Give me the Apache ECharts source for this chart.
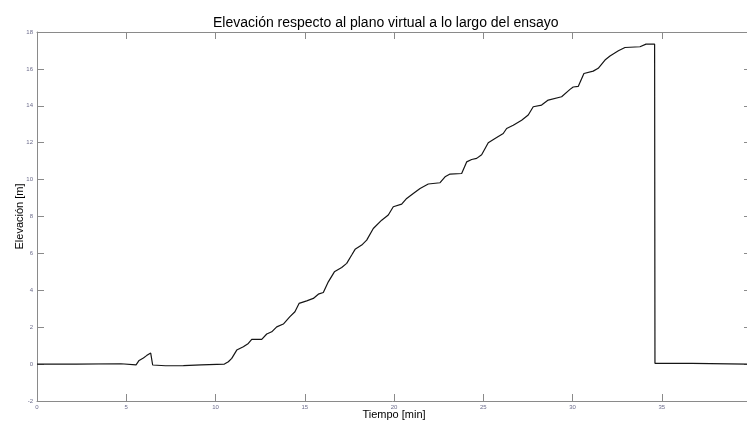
<!DOCTYPE html>
<html>
<head>
<meta charset="utf-8">
<script src="https://cdn.jsdelivr.net/npm/echarts@6/dist/echarts.min.js"></script>
<style>
html,body{margin:0;padding:0;background:#fff;}
#chart{width:747px;height:426px;}
</style>
</head>
<body>
<div id="chart"></div>
<script>
var chartTitle = 'Elevación respecto al plano virtual a lo largo del ensayo';
var xName = 'Tiempo [min]';
var yName = 'Elevación [m]';

var timeMin = [0, 2.2, 2.3, 4.7, 4.8, 5.55, 5.72, 5.96, 6.14, 6.37, 6.44, 6.48, 7.2, 8.2, 9.2, 10.5,
  10.72, 10.91, 11.19, 11.56, 11.84, 12.03, 12.59, 12.87, 13.15, 13.43, 13.8, 14.17, 14.45, 14.68,
  15.11, 15.48, 15.76, 16.04, 16.32, 16.66, 17.07, 17.35, 17.63, 17.82, 18.19, 18.47, 18.84, 19.31,
  19.68, 19.96, 20.43, 20.71, 21.08, 21.46, 21.92, 22.58, 22.86, 23.14, 23.79, 24.07, 24.35, 24.63,
  24.91, 25.0, 25.28, 25.66, 26.12, 26.31, 26.68, 27.15, 27.52, 27.8, 28.27, 28.64, 29.39, 29.86,
  30.04, 30.32, 30.64, 31.16, 31.44, 31.82, 32.1, 32.57, 32.94, 33.78, 34.12, 34.6, 34.62, 36.7, 36.75, 40];
var elevM = [0, 0, 0.03, 0.02, -0.02, -0.04, 0.2, 0.33, 0.46, 0.6, 0.6, -0.05, -0.09, -0.08, -0.04, 0.0,
  0.13, 0.31, 0.76, 0.94, 1.12, 1.34, 1.34, 1.63, 1.75, 2.02, 2.17, 2.57, 2.84, 3.29,
  3.43, 3.56, 3.79, 3.88, 4.46, 5.0, 5.24, 5.46, 5.91, 6.22, 6.45, 6.72, 7.35, 7.8,
  8.08, 8.53, 8.67, 8.98, 9.25, 9.52, 9.76, 9.83, 10.15, 10.3, 10.33, 10.96, 11.09, 11.15,
  11.35, 11.42, 12.0, 12.23, 12.5, 12.77, 12.95, 13.22, 13.5, 13.95, 14.04, 14.31, 14.49, 14.89,
  15.02, 15.05, 15.75, 15.88, 16.03, 16.48, 16.7, 16.98, 17.16, 17.2, 17.34, 17.34, 0.04, 0.04, -0.01, -0.01];

var xTicks = [0, 5, 10, 15, 20, 25, 30, 35, 40];
var yTicks = [-2, 0, 2, 4, 6, 8, 10, 12, 14, 16, 18];

var seriesData = timeMin.map(function (t, i) { return [t, elevM[i]]; });

var FONT = 'Liberation Sans, Arial, sans-serif';
var axisGray = '#8a8a8a';
var labelColor = '#6c6c8c';

var chart = echarts.init(document.getElementById('chart'), null, {renderer: 'canvas'});

function baseAxis(extra) {
  var o = {
    type: 'value',
    axisLine: {show: true, onZero: false, lineStyle: {color: axisGray, width: 1}},
    axisTick: {show: true, inside: true, length: 7, lineStyle: {color: axisGray, width: 1}},
    splitLine: {show: false},
    axisLabel: {show: false}
  };
  for (var k in extra) o[k] = extra[k];
  return o;
}

chart.setOption({
  animation: false,
  backgroundColor: '#ffffff',
  title: {
    text: chartTitle,
    left: 208,
    top: 11,
    textStyle: {fontFamily: FONT, fontSize: 14, fontWeight: 'normal', color: '#000'}
  },
  grid: {left: 37, top: 32, width: 714, height: 369, containLabel: false, outerBoundsMode: 'none'},
  xAxis: [
    baseAxis({
      position: 'bottom', min: xTicks[0], max: xTicks[xTicks.length - 1], interval: 5,
      name: xName, nameLocation: 'middle', nameGap: 8.5, nameMoveOverlap: false,
      nameTextStyle: {fontFamily: FONT, fontSize: 11, color: '#000'},
      axisLabel: {show: true, fontFamily: FONT, fontSize: 6, color: labelColor, margin: 3, showMaxLabel: false}
    }),
    baseAxis({position: 'top', min: xTicks[0], max: xTicks[xTicks.length - 1], interval: 5})
  ],
  yAxis: [
    baseAxis({
      position: 'left', min: yTicks[0], max: yTicks[yTicks.length - 1], interval: 2,
      name: yName, nameLocation: 'middle', nameGap: 12, nameMoveOverlap: false,
      nameTextStyle: {fontFamily: FONT, fontSize: 11, color: '#000'},
      axisLabel: {show: true, fontFamily: FONT, fontSize: 6, color: labelColor, margin: 4}
    }),
    baseAxis({position: 'right', min: yTicks[0], max: yTicks[yTicks.length - 1], interval: 2})
  ],
  series: [{
    type: 'line',
    xAxisIndex: 0,
    yAxisIndex: 0,
    data: seriesData,
    showSymbol: false,
    symbol: 'none',
    lineStyle: {color: '#151515', width: 1.2},
    silent: true
  }]
});
</script>
</body>
</html>
